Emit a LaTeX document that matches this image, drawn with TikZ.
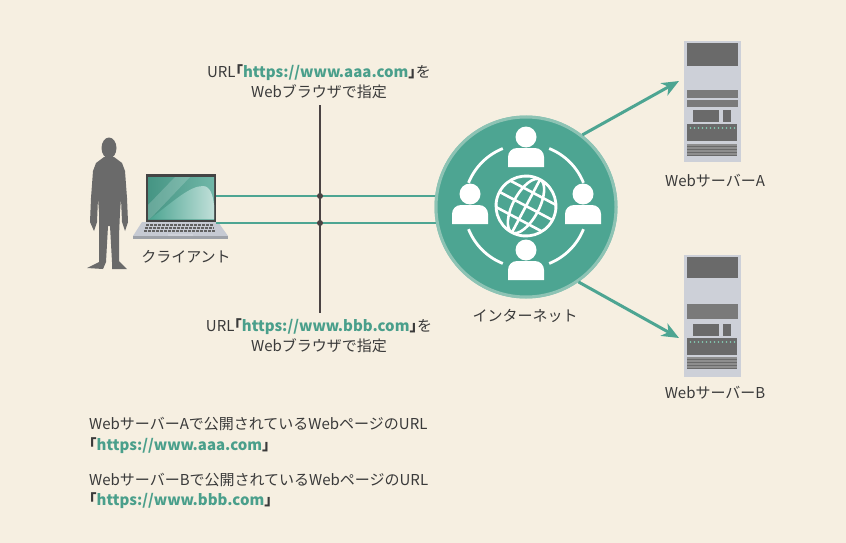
\documentclass[tikz,border=0pt]{standalone}
\usepackage{fontspec}
\setmainfont{Noto Sans CJK JP}
\usetikzlibrary{arrows.meta}

\definecolor{bg}{HTML}{F6EFE1}
\definecolor{netteal}{HTML}{4DA592}
\definecolor{ringedge}{HTML}{8DC3B4}
\definecolor{ink}{HTML}{3A3A3A}
\definecolor{pole}{HTML}{4A4343}
\definecolor{urlc}{HTML}{4A9F8B}
\definecolor{srvbody}{HTML}{CDD0D8}
\definecolor{srvdark}{HTML}{6A6A6A}
\definecolor{srvbar}{HTML}{7A7A7A}
\definecolor{srvled}{HTML}{86D3B9}
\definecolor{silh}{HTML}{6A6A6A}
\definecolor{kbd}{HTML}{C6CAD3}

\newcommand\weburl[1]{{\color{urlc}\bfseries #1}}
\newcommand\lbr{{\bfseries ｢}}
\newcommand\rbr{{\bfseries ｣}}

\tikzset{
  lbl/.style={font=\fontsize{15}{20}\selectfont, text=ink, inner sep=0pt, align=center},
  link/.style={draw=netteal, line width=2.8pt},
  pointer/.style={draw=netteal, line width=3pt,
    -{Stealth[length=17pt, width=14pt, inset=5pt]}},
  junction/.style={circle, fill=pole, inner sep=0pt, minimum size=6pt},
  usericon/.pic={
    \fill[white] (0,0) circle (10.5);
    \fill[white] (-18,30) -- (-18,20) arc[start angle=180, end angle=270, radius=9]
      -- (9,11) arc[start angle=270, end angle=360, radius=9] -- (18,30) -- cycle;
  },
}

\begin{document}
\begin{tikzpicture}[x=1pt, y=-1pt]
  % canvas
  \fill[bg] (0,0) rectangle (846,543);
  \useasboundingbox (0,0) rectangle (846,543);

  % ---- person silhouette ----
  \fill[silh] (109,148) ellipse[x radius=7.5, y radius=10.5];
  \fill[silh] (104,157) -- (96,163) -- (93,171) -- (91,198) -- (90,222) -- (94,231)
    -- (97,222) -- (98,198) -- (99,212) -- (99,240) -- (99,262) -- (87,268)
    -- (103,269) -- (106,262) -- (108,226) -- (110,226) -- (112,262) -- (112,269)
    -- (127,269) -- (119,261) -- (119,236) -- (120,212) -- (121,198) -- (122,222)
    -- (125,231) -- (128,222) -- (127,198) -- (125,171) -- (122,163) -- (114,157) -- cycle;

  % ---- laptop ----
  \node[inner sep=0pt, minimum width=70pt, minimum height=47pt] (laptop) at (181,198) {};
  \fill[ink!95] (146,174) rectangle (216,222);
  \shade[left color=netteal!90!black, right color=netteal!80!white] (148,177) rectangle (214,219);
  \fill[white, opacity=0.18] (148,205) -- (175,177) -- (190,177) -- (150,219) -- (148,219) -- cycle;
  \shade[left color=netteal, right color=netteal!35!white]
    (150,219) .. controls (175,200) and (190,186) .. (203,186)
    .. controls (210,186) and (213,195) .. (214,205) -- (214,219) -- cycle;
  \fill[kbd] (142,222) -- (218,222) -- (228,236) -- (133,236) -- cycle;
  \fill[kbd!80!black] (133,236) rectangle (228,238.5);
  \foreach \yy/\xa/\xb in {225/146/213, 228/145/214, 231/144/215}
    \draw[ink!80, line width=1.4pt, dash pattern=on 3pt off 1pt] (\xa,\yy) -- (\xb,\yy);
  \fill[kbd!85!white] (168,233.5) rectangle (193,235.5);
  \node[lbl, anchor=center] (client) at (186,257) {クライアント};

  % ---- address labels and the line that points at both links ----
  \node[lbl] (urlA) at (319,82) {URL\lbr\weburl{https://www.aaa.com}\rbr を\\Webブラウザで指定};
  \node[lbl] (urlB) at (319,336) {URL\lbr\weburl{https://www.bbb.com}\rbr を\\Webブラウザで指定};
  \coordinate (poleTop) at (320,105);
  \coordinate (poleBot) at (320,313);

  % ---- internet ----
  \node[circle, fill=netteal, draw=ringedge, line width=3pt, minimum size=180pt,
        inner sep=0pt] (net) at (526,207) {};
  \node[lbl, anchor=center] (netlbl) at (525,316) {インターネット};

  % links from the laptop into the internet
  \coordinate (lA) at (216,196);
  \coordinate (lB) at (216,223);
  \draw[link] (lA) -- (lA -| net.center);
  \draw[link] (lB) -- (lB -| net.center);
  \draw[pole, line width=1.3pt] (poleTop) -- (poleBot);
  \node[junction] (jA) at (poleTop |- lA) {};
  \node[junction] (jB) at (poleTop |- lB) {};

  % redraw the circle over the link ends
  \node[circle, fill=netteal, draw=ringedge, line width=3pt, minimum size=180pt,
        inner sep=0pt] at (net) {};

  \begin{scope}[shift={(526,206)}]
    % ring of arcs
    \foreach \a in {22,112,202,292}
      \draw[white, line width=2.8pt] (\a:62) arc[start angle=\a, end angle=\a+46, radius=62];
    % globe
    \begin{scope}[rotate=-28]
      \draw[white, line width=2.8pt] (0,0) circle (30);
      \clip (0,0) circle (30);
      \draw[white, line width=2.6pt] (0,0) ellipse[x radius=13, y radius=30];
      \draw[white, line width=2.6pt] (-30,0) -- (30,0);
      \draw[white, line width=2.6pt] (-30,-15) -- (30,-15);
      \draw[white, line width=2.6pt] (-30,15) -- (30,15);
      \draw[white, line width=2.6pt] (0,-30) -- (0,30);
    \end{scope}
    % people around the globe
    \pic at (0,-69) {usericon};
    \pic at (0,44) {usericon};
    \pic at (-56,-12) {usericon};
    \pic at (57,-12) {usericon};
  \end{scope}

  % ---- servers ----
  \begin{scope}[shift={(684,41)}]
    \node[inner sep=0pt, minimum width=57pt, minimum height=121pt, anchor=north west,
          fill=srvbody] (srvA) at (0,0) {};
    \fill[srvdark] (3,2) rectangle (54,25);
    \fill[srvbar] (3,49) rectangle (54,57);
    \fill[srvbar] (3,58.5) rectangle (54,66);
    \fill[srvdark] (9,69) rectangle (35,81);
    \fill[srvdark] (39,69) rectangle (47,81);
    \fill[srvdark] (3,83) rectangle (53,100);
    \foreach \i in {0,...,11} \fill[srvled] (6.5+\i*4,87) circle (0.9);
    \fill[srvbar!85!white] (3,103) rectangle (53,115);
    \foreach \yy in {105,108,111,114} \draw[srvdark, line width=0.8pt] (3,\yy) -- (53,\yy);
  \end{scope}
  \node[lbl] (srvAlbl) at (715,181) {WebサーバーA};

  \begin{scope}[shift={(684,255)}]
    \node[inner sep=0pt, minimum width=57pt, minimum height=122pt, anchor=north west,
          fill=srvbody] (srvB) at (0,0) {};
    \fill[srvdark] (3,2) rectangle (54,23);
    \fill[srvbar] (3,49) rectangle (54,64);
    \fill[srvdark] (9,69) rectangle (35,81);
    \fill[srvdark] (39,69) rectangle (47,81);
    \fill[srvdark] (3,83) rectangle (53,100);
    \foreach \i in {0,...,11} \fill[srvled] (6.5+\i*4,87) circle (0.9);
    \fill[srvbar!85!white] (3,102) rectangle (53,114);
    \foreach \yy in {104,107,110,113} \draw[srvdark, line width=0.8pt] (3,\yy) -- (53,\yy);
  \end{scope}
  \node[lbl] (srvBlbl) at (715,393) {WebサーバーB};

  % ---- arrows to the servers ----
  \coordinate (tipA) at (679,81);
  \coordinate (tipB) at (679,338);
  \draw[pointer] (net.52) -- (tipA);
  \draw[pointer] (net.-55) -- (tipB);

  % ---- notes ----
  \begin{scope}[every node/.style={lbl, anchor=west}]
    \node (noteA1) at (89,424) {WebサーバーAで公開されているWebページのURL};
    \node (noteA2) at (89,446) {\lbr\weburl{https://www.aaa.com}\rbr};
    \node (noteB1) at (89,480) {WebサーバーBで公開されているWebページのURL};
    \node (noteB2) at (89,501) {\lbr\weburl{https://www.bbb.com}\rbr};
  \end{scope}
\end{tikzpicture}
\end{document}
